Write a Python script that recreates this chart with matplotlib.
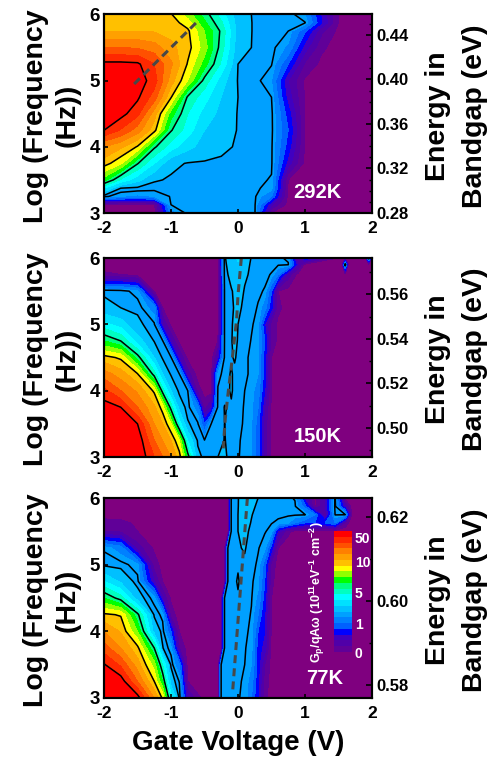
import numpy as np
import matplotlib
matplotlib.use('Agg')
import matplotlib.pyplot as plt
from matplotlib.ticker import MultipleLocator

plt.rcParams['font.family'] = ['Liberation Sans', 'DejaVu Sans']
plt.rcParams['font.weight'] = 'bold'
plt.rcParams['mathtext.fontset'] = 'custom'
plt.rcParams['mathtext.bf'] = 'Liberation Sans:bold'
plt.rcParams['mathtext.rm'] = 'Liberation Sans:bold'
plt.rcParams['mathtext.it'] = 'Liberation Sans:bold'

# colour bands, z is the position on the colour scale
band_colors = ['#7f007f', '#600098', '#5000a8', '#4000c0', '#0000ff', '#0060ff', '#0080ff', '#00a0ff',
               '#00c0ff', '#00e0ff', '#00ffff', '#00ffc0', '#00ff80', '#00ff00', '#90ff00', '#ffff00',
               '#ffc000', '#ffa000', '#ff8000', '#ff5000', '#ff2800', '#ff0000']
band_levels = list(range(22)) + [30]
line_levels = [7.5, 8, 12, 16, 21]
scale_pos = [1, 6, 11.4, 16.7, 20.8]
scale_labels = ['0', '1', '5', '10', '50']

volt_292 = [-2, -1.75, -1.5, -1.25, -1, -.75, -.5, -.25, 0, .25, .5, .75, 1, 1.25, 1.5, 1.75, 2]
freq_292 = [6, 5.875, 5.75, 5.5, 5.25, 5, 4.75, 4.5, 4.25, 4, 3.75, 3.5, 3.375, 3.25, 3.125, 3]
z_292 = [
    [16.8, 16.8, 16.7, 16.6, 16.1, 14.5, 12.6, 10.5, 8.4, 7.9, 7.85, 7.8, 7.0, 3.8, 1, .5, .5],
    [16.9, 16.9, 16.8, 16.7, 16.5, 15.5, 13.2, 11.2, 8.5, 7.9, 7.85, 7.8, 7.55, 4, 1, .5, .5],
    [17, 17, 17, 16.9, 16.6, 16.2, 14, 11.8, 8.5, 7.9, 7.8, 7.5, 5.2, 2.2, .7, .5, .5],
    [19, 19, 18.9, 18.5, 17.3, 16.4, 14.5, 11.5, 8.4, 7.9, 7.7, 6.8, 3.5, 1.2, .5, .5, .5],
    [21.3, 21.3, 21.2, 20, 18.2, 15.9, 13.5, 10.8, 8, 7.8, 7.55, 5, 1.8, .7, .5, .5, .5],
    [21.8, 21.8, 21.6, 20.5, 17.5, 15, 11.6, 9.5, 7.95, 7.75, 7, 3, .8, .5, .5, .5, .5],
    [22, 22, 21.2, 19.5, 16.1, 11.8, 10.4, 9, 8, 7.8, 7.5, 3.5, .9, .5, .5, .5, .5],
    [21.8, 21.4, 20.3, 17.5, 13.5, 11, 9.6, 8.7, 7.95, 7.85, 7.65, 4.5, .9, .5, .5, .5, .5],
    [21, 19.9, 18.5, 16.4, 12.1, 10.5, 9, 8.5, 7.95, 7.85, 7.65, 5, 1, .6, .5, .5, .5],
    [18, 17.2, 15.9, 12.2, 10.5, 9.3, 8.6, 8.2, 7.9, 7.8, 7.6, 4.5, .9, .5, .5, .5, .5],
    [16.5, 15.2, 12.1, 10, 8.2, 7.95, 7.9, 7.85, 7.8, 7.75, 7.6, 3.5, .7, .5, .5, .5, .5],
    [13.5, 10.8, 9.3, 8.1, 7.9, 7.85, 7.8, 7.75, 7.7, 7.65, 7.45, 1, .5, .5, .5, .5, .5],
    [10, 8, 7.85, 7.7, 7.7, 7.7, 7.7, 7.7, 7.65, 7.6, 7.3, .8, .5, .5, .5, .5, .5],
    [7.7, 7, 6.8, 7, 7.55, 7.7, 7.7, 7.7, 7.65, 7.6, 6, .7, .5, .5, .5, .5, .5],
    [.8, .6, .6, .8, 7.5, 7.7, 7.7, 7.7, 7.65, 7.6, 3, .6, .5, .5, .5, .5, .5],
    [.5, .5, .5, .5, 6.5, 7.7, 7.7, 7.7, 7.65, 7.6, .9, .5, .5, .5, .5, .5, .5],
]

volt_150 = [-2, -1.75, -1.5, -1.25, -1.125, -1, -.875, -.75, -.6, -.5, -.4, -.3, -.2, -.1, -.05, 0, .1, .2, .3,
            .4, .5, .6, .75, .9, 1, 1.55, 1.6, 1.65, 1.9, 1.95, 2]
freq_150 = [6, 5.9, 5.75, 5.5, 5.25, 5, 4.75, 4.5, 4.25, 4, 3.75, 3.5, 3.25, 3]
z_150 = [
    [.5, .5, .5, .5, .5, .5, .5, .5, .5, .5, .5, .8, 7.9, 8.6, 8.9, 9.1, 8.6, 7.95, 7.8, 7.75, 7.7, 7.6, 7.4, 1, 5, .5, .5, .5, .5, 8.5, .5],
    [.5, .5, .5, .5, .5, .5, .5, .5, .5, .5, .5, .7, 7.85, 8.4, 8.7, 8.9, 8.3, 7.9, 7.8, 7.75, 7.7, 7.6, 7.55, 3, .6, .5, 8.5, .5, .5, .5, .5],
    [1.2, 1, .6, .5, .5, .5, .5, .5, .5, .5, .5, .6, 7.8, 8.2, 8.4, 8.6, 8.1, 7.9, 7.8, 7.65, 7.45, 6, 2.5, .6, .5, .5, .5, .5, .5, .5, .5],
    [7.9, 7.8, 7.2, .9, .5, .5, .5, .5, .5, .5, .5, .6, 7.6, 7.95, 8.1, 8.3, 7.95, 7.85, 7.6, 7.45, 5, 1, .6, .5, .5, .5, .5, .5, .5, .5, .5],
    [8.2, 8, 7.85, 6.5, 1, .5, .5, .5, .5, .5, .5, .7, 7.6, 7.9, 8.05, 8.1, 7.9, 7.7, 7.45, 6.5, 4.3, 1.2, .6, .5, .5, .5, .5, .5, .5, .5, .5],
    [10.3, 9.5, 8.2, 7.6, 3, .7, .5, .5, .5, .5, .5, .7, 7.6, 7.9, 8.2, 8, 7.9, 7.6, 7.2, 4, 1.5, .8, .6, .5, .5, .5, .5, .5, .5, .5, .5],
    [13, 12, 9.5, 7.95, 7.6, 3, .7, .5, .5, .5, .5, 1, 7.6, 7.95, 8.2, 7.95, 7.9, 7.45, 7.1, 5, 1.5, .8, .6, .5, .5, .5, .5, .5, .5, .5, .5],
    [16.4, 15.8, 12.5, 9, 7.9, 7.6, 3, .7, .5, .5, .5, 3, 7.65, 7.95, 8.05, 7.9, 7.6, 7.4, 7, 4.5, 1, .6, .5, .5, .5, .5, .5, .5, .5, .5, .5],
    [18.5, 17.5, 16.1, 11.5, 9, 7.9, 7.5, 2.5, .5, .5, .5, 7.2, 7.8, 8.05, 7.9, 7.8, 7.6, 7.4, 7, 4.5, 1, .6, .5, .5, .5, .5, .5, .5, .5, .5, .5],
    [20.3, 19, 17.8, 15.8, 11.5, 9, 7.8, 7.5, 1.5, .6, .5, 7.6, 7.85, 8.05, 7.9, 7.75, 7.5, 7.3, 6.5, 4, .9, .6, .5, .5, .5, .5, .5, .5, .5, .5, .5],
    [21.5, 21, 19, 17.2, 15.5, 11.5, 8.6, 7.7, 6.5, 1.5, 3, 7.7, 8.02, 7.95, 7.85, 7.7, 7.45, 7.2, 6, 3, .8, .6, .5, .5, .5, .5, .5, .5, .5, .5, .5],
    [22, 22, 21, 18, 17, 15, 10.5, 8.1, 7.6, 5, 7.5, 7.8, 8, 7.9, 7.8, 7.7, 7.4, 7.1, 5.5, 2.5, .7, .6, .5, .5, .5, .5, .5, .5, .5, .5, .5],
    [22.5, 22.5, 21.8, 19, 18, 17, 15, 10, 7.9, 7.55, 7.7, 7.8, 8.02, 7.85, 7.7, 7.6, 7.3, 7, 5.5, 2.5, .7, .6, .5, .5, .5, .5, .5, .5, .5, .5, .5],
    [22.5, 22.5, 22, 20, 19, 18, 16.5, 12.6, 8.2, 7.85, 7.8, 8, 8.1, 7.8, 7.7, 7.55, 7.3, 7, 5.5, 2.5, .7, .6, .5, .5, .5, .5, .5, .5, .5, .5, .5],
]

volt_77 = [-2, -1.75, -1.5, -1.25, -1.125, -1, -.875, -.75, -.5, -.3, -.25, -.2, -.15, -.1, 0, .05, .1, .15, .2,
           .3, .4, .5, .6, .75, .85, 1, 1.15, 1.3, 1.45, 1.6, 1.7, 2]
freq_77 = [6, 5.875, 5.75, 5.625, 5.5, 5.25, 5, 4.75, 4.5, 4.25, 4, 3.75, 3.5, 3.25, 3]
z_77 = [
    [.5, .5, .5, .5, .5, .5, .5, .5, .5, .5, .5, .5, .6, 7.7, 7.97, 8.2, 8.3, 8.3, 8.3, 8, 7.75, 7.75, 7.7, 7.6, 7.45, 3.5, .6, 3, 7.6, .6, .5, .5],
    [.5, .5, .5, .5, .5, .5, .5, .5, .5, .5, .5, .5, .6, 7.7, 7.98, 8.2, 8.3, 8.3, 8.2, 7.85, 7.75, 7.75, 7.7, 7.65, 7.6, 5.5, .8, 3, 7.7, 3, .5, .5],
    [.5, .5, .5, .5, .5, .5, .5, .5, .5, .5, .5, .5, .6, 7.7, 8, 8.2, 8.3, 8.2, 8.05, 7.7, 7.65, 7.6, 7.6, 7.6, 7.6, 7.55, 6, 2, 7.55, 7.55, .7, .5],
    [1.5, 1.3, .8, .5, .5, .5, .5, .5, .5, .5, .5, .5, .6, 7.7, 8, 8.15, 8.2, 8.15, 7.95, 7.65, 7.6, 7.52, 7.4, 7, 6, 5, 5, 5, 6, 1.5, .5, .5],
    [2, 1.8, 1, .6, .5, .5, .5, .5, .5, .5, .5, .5, .6, 7.7, 8, 8.15, 8.15, 8.02, 7.85, 7.6, 7.55, 7.3, 3.5, 1.2, .7, .5, .5, .5, .5, .5, .5, .5],
    [7.4, 6.5, 2.5, .8, .6, .5, .5, .5, .5, .5, .5, .6, 7.7, 7.8, 7.9, 8, 8.05, 7.9, 7.8, 7.55, 7.2, 4.5, 1, .5, .5, .5, .5, .5, .5, .5, .5, .5],
    [7.85, 7.75, 7.2, 1.5, .6, .5, .5, .5, .5, .5, .5, .6, 7.7, 7.8, 7.95, 7.95, 7.9, 7.8, 7.7, 7.4, 5.5, 1.5, .6, .5, .5, .5, .5, .5, .5, .5, .5, .5],
    [10, 8.8, 7.7, 3, 1, .6, .5, .5, .5, .5, .5, .6, 7.7, 7.8, 8.05, 7.9, 7.8, 7.7, 7.6, 7.2, 5, 1.2, .6, .5, .5, .5, .5, .5, .5, .5, .5, .5],
    [13, 11.5, 8.5, 7.2, 3, .8, .5, .5, .5, .5, .6, 7.7, 7.75, 7.8, 7.95, 7.85, 7.75, 7.65, 7.55, 6.8, 4.5, 1, .5, .5, .5, .5, .5, .5, .5, .5, .5, .5],
    [16.2, 15.9, 12.3, 7.9, 7.3, 1.5, .5, .5, .5, .5, .6, 7.7, 7.75, 7.8, 7.9, 7.8, 7.7, 7.6, 7.45, 6, 4, .9, .5, .5, .5, .5, .5, .5, .5, .5, .5, .5],
    [18, 16.9, 14, 8.6, 7.8, 5, 1, .5, .5, .5, .6, 7.7, 7.75, 7.8, 7.85, 7.7, 7.6, 7.5, 7.4, 5, 4, .8, .5, .5, .5, .5, .5, .5, .5, .5, .5, .5],
    [19.5, 18, 16.3, 12, 8.05, 7.2, 2, .5, .5, .5, .6, 7.7, 7.75, 7.8, 7.8, 7.65, 7.55, 7.4, 7.3, 4.5, 3.5, .7, .5, .5, .5, .5, .5, .5, .5, .5, .5, .5],
    [21.1, 19.8, 17.5, 14.5, 11, 7.9, 6, .5, .5, .6, 7.7, 7.75, 7.8, 7.8, 7.7, 7.55, 7.5, 7.3, 7, 4.5, 2, .6, .5, .5, .5, .5, .5, .5, .5, .5, .5, .5],
    [22.2, 21.6, 19, 16, 13, 8.5, 7.45, 1, .5, .6, 7.7, 7.75, 7.8, 7.8, 7.6, 7.5, 7.45, 7, 6.5, 4.2, 1.5, .6, .5, .5, .5, .5, .5, .5, .5, .5, .5, .5],
    [22.4, 22.2, 21.5, 18, 15.8, 10.5, 7.9, 3, .5, .6, 7.7, 7.75, 7.8, 7.75, 7.55, 7.45, 7.4, 6.8, 6, 4, 1.2, .6, .5, .5, .5, .5, .5, .5, .5, .5, .5, .5],
]

# dashed trace over each map
trace_v_292 = [-1.55, -.6]
trace_f_292 = [4.95, 5.9]
trace_v_150 = [.05, 0, -.02, -.08, -.14, -.19, -.22]
trace_f_150 = [6, 5.44, 5.08, 4.53, 4.03, 3.58, 3.13]
trace_v_77 = [.14, -.08]
trace_f_77 = [6, 3.1]

freq_ticks = [3, 4, 5, 6]
volt_ticks = [-2, -1, 0, 1, 2]
volt_labels = ['-2', '-1', '0', '1', '2']

W, H = 490, 763
fig = plt.figure(figsize=(W / 100, H / 100), dpi=100)


def panel(top, bottom, volt, freq, z, trace_v, trace_f, energy_ticks, energy_lim, temp, temp_xy):
    ax = fig.add_axes([104 / W, 1 - bottom / H, 268 / W, (bottom - top) / H])
    ax.contourf(volt, freq, np.array(z), levels=band_levels, colors=band_colors)
    ax.contour(volt, freq, np.array(z), levels=line_levels, colors='black', linewidths=1.1)
    ax.plot(trace_v, trace_f, color='#484848', lw=2.2, dashes=(2.6, 1.7))
    ax.set_xlim(-2, 2)
    ax.set_ylim(3, 6)
    ax.set_xticks(volt_ticks)
    ax.set_xticklabels(volt_labels)
    ax.set_yticks(freq_ticks)
    ax.tick_params(axis='y', direction='in', length=3, width=1.2, labelsize=13.5, pad=3)
    ax.tick_params(axis='x', direction='in', length=3, width=1.2, labelsize=12.5, pad=6)
    ax2 = ax.twinx()
    ax2.set_ylim(*energy_lim)
    ax2.set_yticks(energy_ticks)
    ax2.set_yticklabels(['%.2f' % e for e in energy_ticks])
    ax2.yaxis.set_minor_locator(MultipleLocator(0.01))
    ax2.tick_params(axis='y', which='major', direction='in', length=4, width=1.2, labelsize=12, pad=3)
    ax2.tick_params(axis='y', which='minor', direction='in', length=2, width=1)
    for a in (ax, ax2):
        for s in a.spines.values():
            s.set_linewidth(1.5)
    mid = (top + bottom) / 2 + 2
    fig.text(36 / W, 1 - mid / H, 'Log (Frequency', rotation=90, fontsize=20.5, ha='center', va='center')
    fig.text(68 / W, 1 - mid / H, '(Hz))', rotation=90, fontsize=20.5, ha='center', va='center')
    fig.text(438 / W, 1 - mid / H, 'Energy in', rotation=90, fontsize=20.5, ha='center', va='center')
    fig.text(475 / W, 1 - mid / H, 'Bandgap (eV)', rotation=90, fontsize=20.5, ha='center', va='center')
    fig.text(temp_xy[0] / W, 1 - temp_xy[1] / H, temp, color='white', fontsize=14.5, ha='center', va='center')
    return ax


panel(14.5, 213, volt_292, freq_292, z_292, trace_v_292, trace_f_292,
      [.28, .32, .36, .40, .44], (.28, .4584), '292K', (317, 193))
panel(258, 457, volt_150, freq_150, z_150, trace_v_150, trace_f_150,
      [.50, .52, .54, .56], (.487, .5763), '150K', (318, 437))
panel(498, 698, volt_77, freq_77, z_77, trace_v_77, trace_f_77,
      [.58, .60, .62], (.5769, .6246), '77K', (325, 678))

fig.text(238 / W, 1 - 743 / H, 'Gate Voltage (V)', fontsize=20, ha='center', va='center')

# colour scale inside the lower map
cax = fig.add_axes([334 / W, 1 - 652 / H, 18 / W, 121 / H])
for i in range(1, 22):
    cax.bar(0.5, 1, width=1, bottom=i, color=band_colors[i])
cax.set_xlim(0, 1)
cax.set_ylim(1, 22)
cax.set_xticks([])
cax.yaxis.tick_right()
cax.set_yticks(scale_pos)
cax.set_yticklabels(scale_labels, color='white', fontsize=10)
cax.tick_params(axis='y', length=0, pad=2)
for s in cax.spines.values():
    s.set_visible(False)
fig.text(317 / W, 1 - 592 / H, r'$\mathbf{G_p/qA\omega\ (10^{11}eV^{-1}\ cm^{-2})}$', color='white',
         fontsize=9, rotation=90, ha='center', va='center')

fig.savefig('out.png', dpi=100)
